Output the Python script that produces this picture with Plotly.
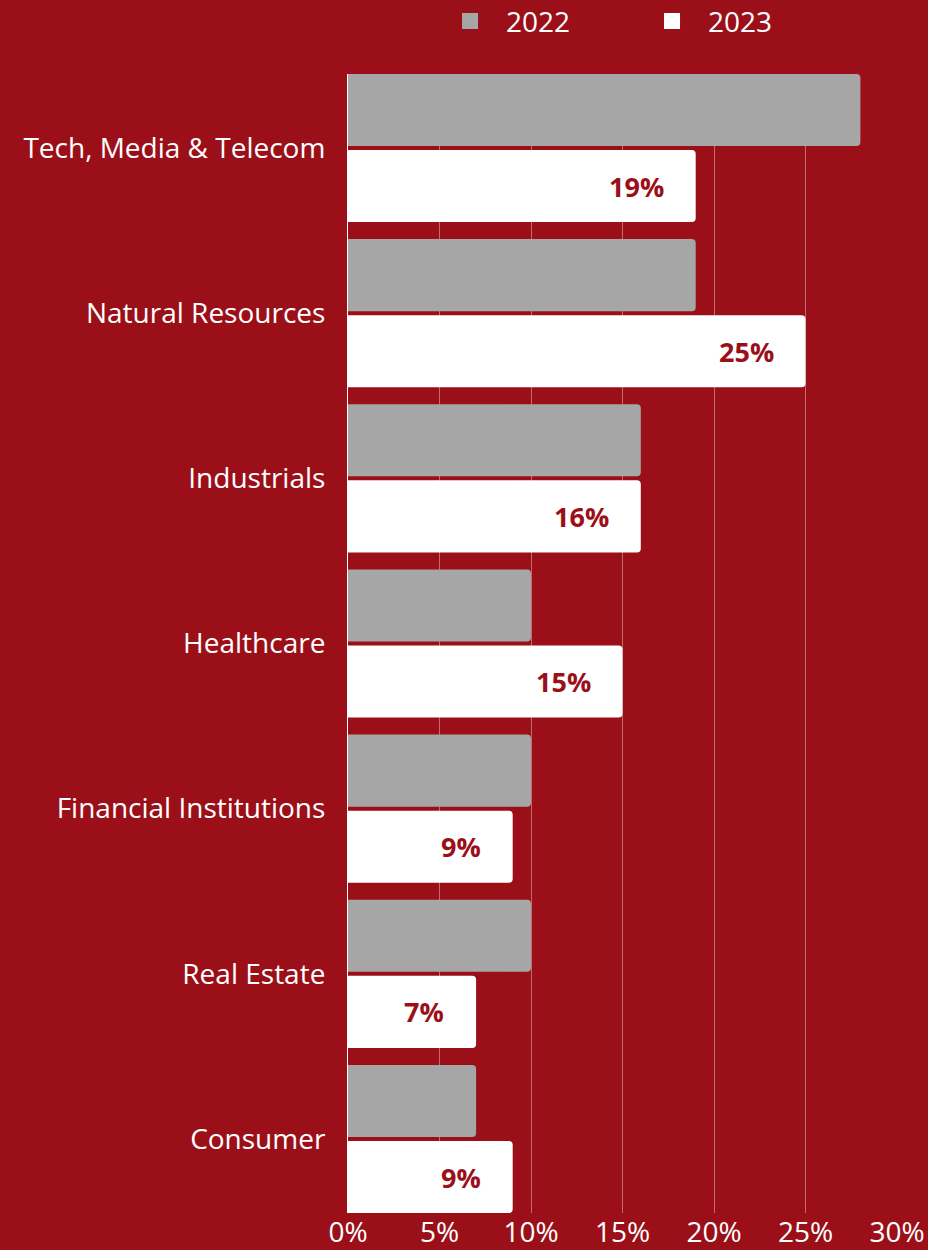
import plotly.graph_objects as go

sectors = ["Tech, Media & Telecom", "Natural Resources", "Industrials", "Healthcare",
           "Financial Institutions", "Real Estate", "Consumer"]
share_2022 = [28, 19, 16, 10, 10, 10, 7]
share_2023 = [19, 25, 16, 15, 9, 7, 9]
years = ["2022", "2023"]
x_ticks = [0, 5, 10, 15, 20, 25, 30]
x_tick_labels = ["0%", "5%", "10%", "15%", "20%", "25%", "30%"]

BG = "#9B0F19"
GREY = "#A6A6A6"
FONT = "Open Sans"
colors = {"2022": GREY, "2023": "white"}

fig = go.Figure()
for year, vals in zip(years, [share_2022, share_2023]):
    fig.add_trace(go.Bar(name=year, y=sectors, x=vals, orientation="h",
                         marker=dict(color=colors[year], line=dict(width=0)),
                         showlegend=False, legendgroup=year))

# legend entries with square swatches
for year in years:
    fig.add_trace(go.Scatter(name=year, x=[None], y=[None], mode="markers",
                             marker=dict(symbol="square", size=22, color=colors[year]),
                             legendgroup=year, showlegend=True))

# value labels near the end of the 2023 bars
for s, v in zip(sectors, share_2023):
    fig.add_annotation(x=v, y=s, text=f"<b>{v}%</b>", showarrow=False,
                       xanchor="right", yanchor="middle", xshift=-30, yshift=-38,
                       font=dict(color=BG, size=27, family=FONT))

# keep the bar groups flush with the top and bottom of the plot area
half_group = 0.448
fig.update_layout(
    width=928, height=1250,
    paper_bgcolor=BG, plot_bgcolor=BG,
    margin=dict(l=348, r=31, t=74, b=37),
    barmode="group", bargap=0.079, bargroupgap=0.053,
    barcornerradius=4,
    font=dict(family=FONT, color="white", size=28),
    legend=dict(orientation="h", xref="container", yref="container",
                x=0.4677, xanchor="left", y=0.983, yanchor="middle",
                font=dict(size=28, color="white"), itemwidth=62,
                entrywidth=125, bgcolor="rgba(0,0,0,0)"),
)
fig.update_xaxes(range=[0, 30], tickvals=x_ticks, ticktext=x_tick_labels,
                 showgrid=True, gridcolor="rgba(255,255,255,0.38)", gridwidth=1,
                 zeroline=False, showline=False, ticks="", automargin=False,
                 tickfont=dict(size=28, color="white"))
fig.update_yaxes(range=[len(sectors) - 1 + half_group, -half_group],
                 showgrid=False, ticks="outside", ticklen=16,
                 tickcolor=BG, automargin=False, showline=True, linecolor="white",
                 linewidth=1, tickfont=dict(size=28, color="white"))

fig.write_html("out.html")
